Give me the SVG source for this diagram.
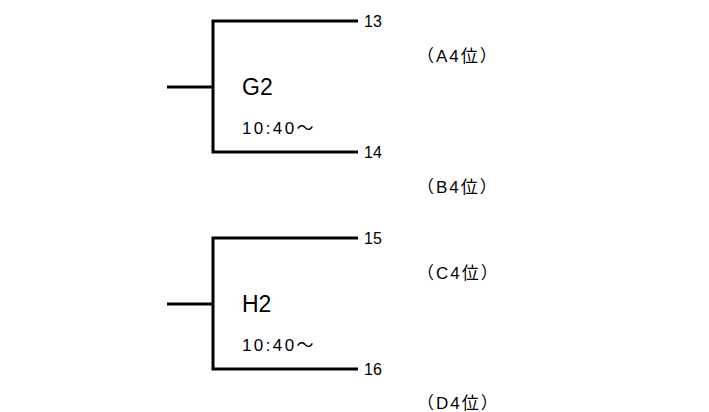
<svg xmlns="http://www.w3.org/2000/svg" width="709" height="412" viewBox="0 0 709 412">
<style>
.ln{stroke:#000;stroke-width:3;fill:none;stroke-linecap:butt}
.num{font-family:"Liberation Sans","Noto Sans CJK JP",sans-serif;font-size:16px;fill:#000}
.rank{font-family:"Liberation Sans","Noto Sans CJK JP",sans-serif;font-size:17px;fill:#000;letter-spacing:2px}
.game{font-family:"Liberation Sans","Noto Sans CJK JP",sans-serif;font-size:23px;fill:#000}
.time{font-family:"Liberation Sans","Noto Sans CJK JP",sans-serif;font-size:17px;fill:#000;letter-spacing:2.4px}
</style>
<rect width="709" height="412" fill="#fff"/>
<g id="connectors">
<path class="ln" d="M167 87H213M213 19.5V153.5M213 21H358M213 152H358"/>
<path class="ln" d="M167 304H213M213 236.5V370.5M213 238H358M213 369H358"/>
</g>
<g id="G2">
<text class="game" x="242" y="95">G2</text>
<text class="time" x="242" y="134">10:40～</text>
</g>
<g id="H2">
<text class="game" x="242" y="312">H2</text>
<text class="time" x="242" y="351">10:40～</text>
</g>
<g id="slot13"><text class="num" x="364" y="27">13</text></g>
<g id="slot14"><text class="num" x="364" y="158">14</text></g>
<g id="slot15"><text class="num" x="364" y="244">15</text></g>
<g id="slot16"><text class="num" x="364" y="375">16</text></g>
<g id="rankA"><text class="rank" x="417" y="61.5">（A4位）</text></g>
<g id="rankB"><text class="rank" x="417" y="192.5">（B4位）</text></g>
<g id="rankC"><text class="rank" x="417" y="278.5">（C4位）</text></g>
<g id="rankD"><text class="rank" x="417" y="409">（D4位）</text></g>
</svg>
